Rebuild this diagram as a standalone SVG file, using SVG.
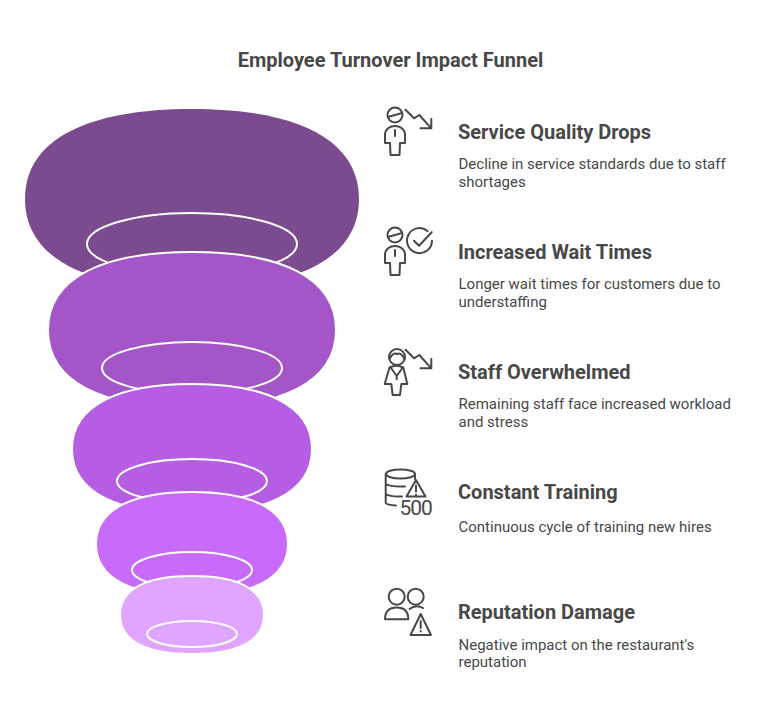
<svg xmlns="http://www.w3.org/2000/svg" width="769" height="720" viewBox="0 0 769 720">
<style>
text{font-family:Roboto,"Liberation Sans",sans-serif;fill:#484848}
.t{font-size:20px;font-weight:700}
.h{font-size:20px;font-weight:700}
.d{font-size:15px}
.s{stroke:#fff;stroke-width:2}
.e{fill:none;stroke:#fff;stroke-width:2}
.i{fill:none;stroke:#484848;stroke-width:2;stroke-linecap:round;stroke-linejoin:round}
</style>
<defs>
<g id="man"><circle cx="395" cy="115" r="7.5"/><path d="M388 117Q395 115 402 113"/><path d="M385 143V135C385 129 390 126 395 126C400 126 405 129 405 135V143H400L399.500 155H390.500L390 143Z"/><path d="M395 130V136"/></g>
<path id="arrow" d="M405.500 109.700L414 118.300L419.300 115L431.300 128.300M431.300 119V128.300H420.500"/>
</defs>
<rect width="769" height="720" fill="#fff"/>
<text class="t" x="390.500" y="67" text-anchor="middle">Employee Turnover Impact Funnel</text>
<g id="funnel">
<g id="layer-1"><path d="M25 199C25 138 90 109 192 109C294 109 359 138 359 199C359 260 294 289 192 289C90 289 25 260 25 199Z" fill="#7B4A8F"/><ellipse class="e" cx="192" cy="244" rx="105" ry="31"/></g>
<g id="layer-2"><path class="s" d="M48 330C48 277 104 252 192 252C280 252 336 277 336 330C336 383 280 408 192 408C104 408 48 383 48 330Z" fill="#A455C8"/><ellipse class="e" cx="192" cy="368" rx="90" ry="26"/></g>
<g id="layer-3"><path class="s" d="M72 449C72 405 119 384 192 384C265 384 312 405 312 449C312 493 265 514 192 514C119 514 72 493 72 449Z" fill="#B65EE3"/><ellipse class="e" cx="192" cy="481" rx="75" ry="22"/></g>
<g id="layer-4"><path class="s" d="M96 544C96 509 133 492 192 492C251 492 288 509 288 544C288 579 251 596 192 596C133 596 96 579 96 544Z" fill="#C86BFA"/><ellipse class="e" cx="192" cy="570" rx="60" ry="18"/></g>
<g id="layer-5"><path class="s" d="M120 615C120 588 148 576 192 576C236 576 264 588 264 615C264 642 236 654 192 654C148 654 120 642 120 615Z" fill="#E0A6FF"/><ellipse class="e" cx="192" cy="634" rx="45" ry="13"/></g>
</g>
<g id="connectors"/>
<g id="item-1"><g class="i"><use href="#man"/><use href="#arrow"/></g>
<text class="h" x="458" y="139">Service Quality Drops</text>
<text class="d" x="458.500" y="168.500">Decline in service standards due to staff</text>
<text class="d" x="458.500" y="187">shortages</text></g>
<g id="item-2"><g class="i"><use href="#man" y="120"/><path d="M427.500 231A12.500 12.500 0 1 0 432 240.700"/><path d="M414 240.700L419 245.700L431.700 232.300"/></g>
<text class="h" x="458" y="259">Increased Wait Times</text>
<text class="d" x="458.500" y="288.500">Longer wait times for customers due to</text>
<text class="d" x="458.500" y="307">understaffing</text></g>
<g id="item-3"><g class="i"><circle cx="397" cy="357" r="8"/><path d="M389.500 359Q393 352 397 354Q401 352 404.500 359"/><path d="M389.500 367.500L384.700 384H391.300L392.700 395H400L401.300 384H407.300L403.300 367.500Q396.500 364 389.500 367.500Z"/><path d="M390.700 367.500L396.700 376L402.700 367.500M396.700 376V379.300"/><use href="#arrow" y="240"/></g>
<text class="h" x="458" y="379">Staff Overwhelmed</text>
<text class="d" x="458.500" y="408.500">Remaining staff face increased workload</text>
<text class="d" x="458.500" y="427">and stress</text></g>
<g id="item-4"><g class="i"><ellipse cx="400.500" cy="474" rx="14.500" ry="4.500"/><path d="M385.700 474V502.700Q386 505 396 505.500M415 474V479M385.700 484Q390 487 405 486.500M385.700 494Q390 497 402 496.500"/><path d="M416 480L406.500 496.500H425.500ZM416 485.500V491.500M416 494.400V495"/></g>
<text x="399.500" y="514.500" style="font-size:21px;letter-spacing:-1px">500</text>
<text class="h" x="458" y="499">Constant Training</text>
<text class="d" x="458.500" y="532">Continuous cycle of training new hires</text></g>
<g id="item-5"><g class="i"><circle cx="396.700" cy="596.700" r="8"/><path d="M385 619.300C385 611 390 607.500 396.700 607.500C403.500 607.500 408.300 611 408.300 619.300Z"/><circle cx="415.700" cy="596.700" r="8"/><path d="M409.500 609Q416 604 423 608"/><path d="M420.700 614L410.500 635H431ZM420.700 621V628M420.700 631V631.500"/></g>
<text class="h" x="458" y="619">Reputation Damage</text>
<text class="d" x="458.500" y="649.500">Negative impact on the restaurant's</text>
<text class="d" x="458.500" y="667">reputation</text></g>
</svg>
